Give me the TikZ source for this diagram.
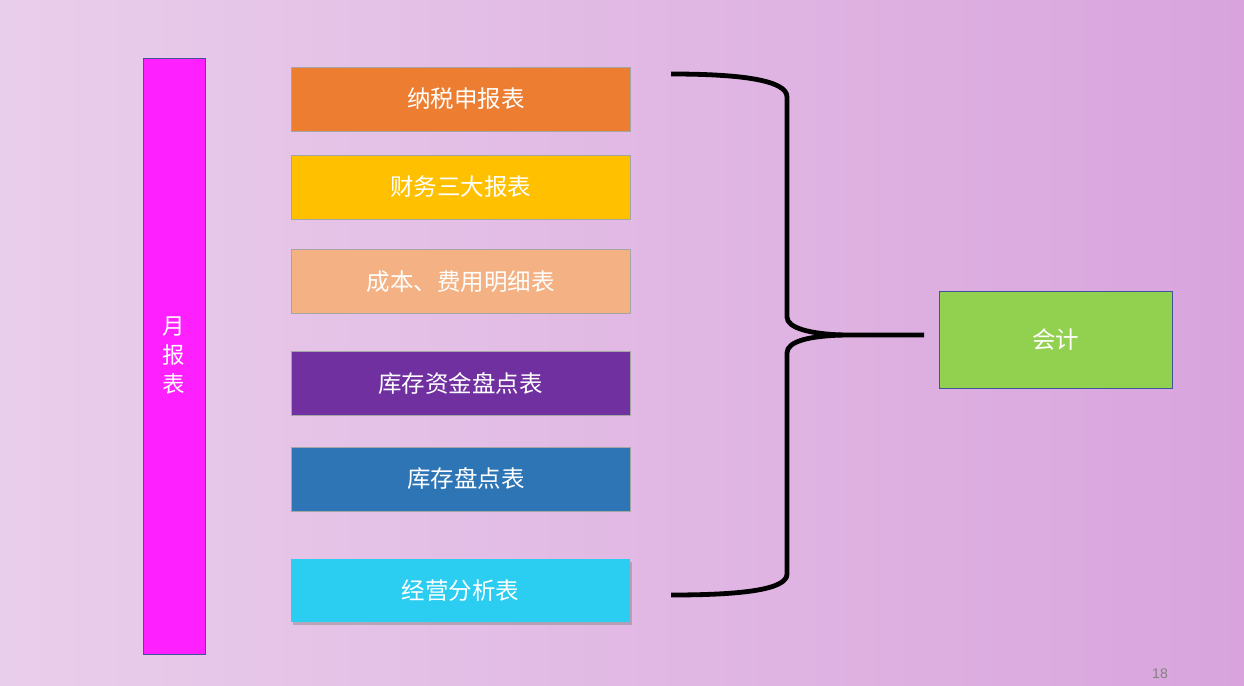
\documentclass[tikz,border=0pt]{standalone}
\usepackage{fontspec}
\newfontfamily\cjk{Noto Sans CJK SC}
\setmainfont{Liberation Sans}
\usetikzlibrary{shadows}
\definecolor{bgL}{RGB}{233,206,235}
\definecolor{bgR}{RGB}{217,164,221}
\definecolor{cMag}{RGB}{255,32,255}
\definecolor{cBlueLine}{RGB}{63,85,150}
\definecolor{cGreyLine}{RGB}{165,165,165}
\definecolor{cOrange}{RGB}{237,125,49}
\definecolor{cGold}{RGB}{255,192,0}
\definecolor{cPeach}{RGB}{244,177,131}
\definecolor{cPurple}{RGB}{112,48,160}
\definecolor{cBlue}{RGB}{46,117,182}
\definecolor{cCyan}{RGB}{43,205,240}
\definecolor{cGreen}{RGB}{146,208,80}
\definecolor{cNum}{RGB}{130,130,130}
\begin{document}
\begin{tikzpicture}[x=1pt,y=-1pt,
  reportbox/.style={draw=cGreyLine, line width=0.8pt, minimum width=339pt, minimum height=64pt,
    inner sep=0pt, text=white, font=\cjk\fontsize{23.5}{27}\selectfont},
  bracestyle/.style={line width=4.8pt, line cap=butt, line join=round}]
\shade[left color=bgL, right color=bgR] (0,0) rectangle (1244,685);
\useasboundingbox (0,0) rectangle (1244,685);

\node[draw=cBlueLine, line width=0.8pt, fill=cMag, minimum width=62pt, minimum height=596pt, inner sep=0pt,
  text=white, align=center, font=\cjk\fontsize{22.5}{29}\selectfont] (yue) at (174,356) {月\\报\\表};

\node[reportbox, fill=cOrange] (b1) at (460.5,99) {\hspace{11pt}纳税申报表};
\node[reportbox, fill=cGold] (b2) at (460.5,187) {财务三大报表};
\node[reportbox, fill=cPeach] (b3) at (460.5,281.5) {成本、费用明细表};
\node[reportbox, fill=cPurple] (b4) at (460.5,383.5) {库存资金盘点表};
\node[reportbox, fill=cBlue] (b5) at (460.5,479) {\hspace{11pt}库存盘点表};
\node[reportbox, draw=none, fill=cCyan, minimum height=63pt,
  drop shadow={opacity=0.45, shadow xshift=2pt, shadow yshift=-3pt}] (b6) at (460.5,590.5) {经营分析表};

\node[draw=cBlueLine, line width=0.8pt, fill=cGreen, minimum width=233pt, minimum height=97pt, inner sep=0pt,
  text=white, font=\cjk\fontsize{23.5}{27}\selectfont] (kj) at (1055.5,339.5) {会计};

\coordinate (tipL) at (843,335);
\coordinate (tip) at (924,335);
\draw[bracestyle] (671,74) .. controls (740,74) and (787,80) .. (787,97)
  -- (787,317) .. controls (787,328) and (810,334) .. (tipL) -- (tip);
\draw[bracestyle] (tipL) .. controls (810,336) and (787,341) .. (787,353)
  -- (787,574) .. controls (787,590) and (740,595) .. (671,595);

\node[text=cNum, font=\fontsize{14}{16}\selectfont] (num) at (1160,674) {18};
\end{tikzpicture}
\end{document}
